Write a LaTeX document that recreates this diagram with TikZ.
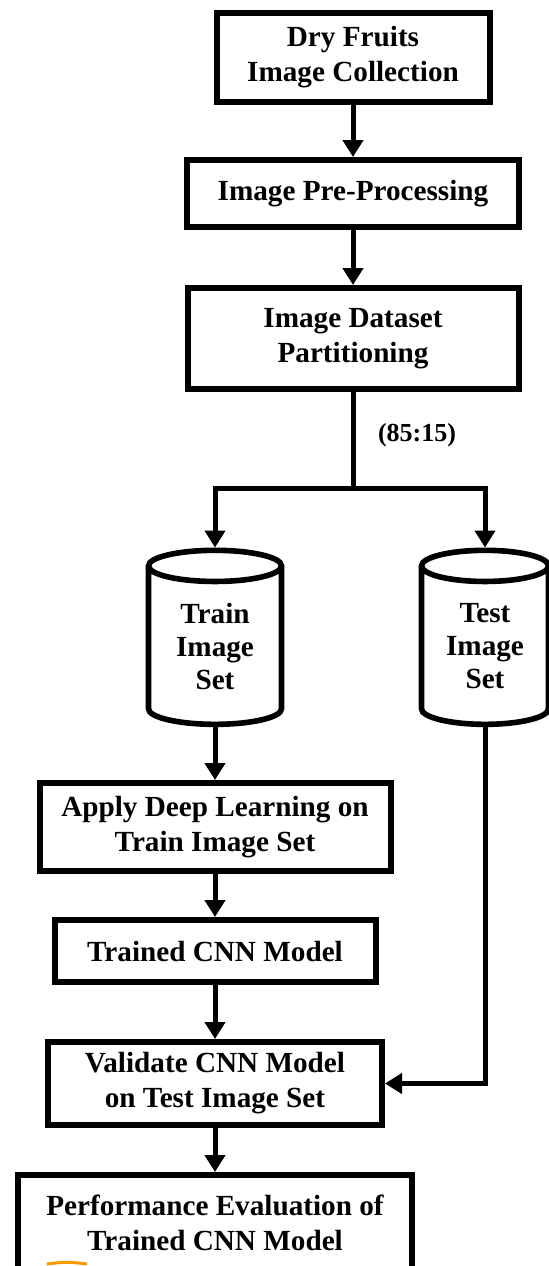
\documentclass[tikz,border=0pt]{standalone}
\usepackage{fontspec}
\setmainfont{Liberation Serif}
\usetikzlibrary{arrows.meta,shapes.geometric}

\begin{document}
\begin{tikzpicture}[x=0.5pt,y=-0.5pt,
    box/.style={draw=black, line width=3pt, align=center, inner sep=0pt,
        font=\bfseries\fontsize{14.6}{17.5}\selectfont},
    store/.style={draw=black, line width=2.8pt, cylinder, shape border rotate=90,
        aspect=0.4, align=center, inner sep=0pt,
        font=\bfseries\fontsize{14.6}{16.5}\selectfont},
    flow/.style={line width=2.5pt, -{Triangle[length=8.5pt,width=10pt]}}]
    \useasboundingbox (0,0) rectangle (548,1266);

    \node[box, minimum width=136.5pt, minimum height=44.5pt] (collect) at (353,57.5) {Dry Fruits\\Image Collection};
    \node[box, minimum width=166pt, minimum height=33.5pt] (preproc) at (353,193.5) {Image Pre-Processing};
    \node[box, minimum width=165.5pt, minimum height=50.5pt] (partition) at (353,338.5) {Image Dataset\\Partitioning};

    \coordinate (split) at (353,488);
    \node[store, minimum width=66.5pt, minimum height=87pt] (train) at (215,646.5) {Train\\Image\\Set};
    \node[store, minimum width=63.5pt, minimum height=87pt] (test) at (485,646.5) {Test\\Image\\Set};
    \node[font=\bfseries\fontsize{13}{15}\selectfont] (ratio) at (417,435) {(85:15)};

    \node[box, minimum width=175.5pt, minimum height=44pt] (applydl) at (215,827) {Apply Deep Learning on\\Train Image Set};
    \node[box, minimum width=160.5pt, minimum height=31pt] (trained) at (215,951) {Trained CNN Model};
    \node[box, minimum width=167pt, minimum height=41.5pt] (validate) at (215,1083.5) {Validate CNN Model\\on Test Image Set};
    \node[box, minimum width=197pt, minimum height=47.5pt] (perf) at (215,1222.5) {Performance Evaluation of\\Trained CNN Model};

    \draw[flow] (collect) -- (preproc);
    \draw[flow] (preproc) -- (partition);
    \draw[line width=2.5pt] (partition) -- (split);
    \draw[flow] (split) -| (train.top);
    \draw[flow] (split) -| (test.top);
    \draw[flow] (train.bottom) -- (applydl);
    \draw[flow] (applydl) -- (trained);
    \draw[flow] (trained) -- (validate);
    \draw[flow] (test.bottom) |- (validate.east);
    \draw[flow] (validate) -- (perf);

    % small orange stroke under the last box text
    \draw[orange!80!yellow, line width=1.5pt] (47,1264) to[bend left=8] (87,1264);
\end{tikzpicture}
\end{document}
